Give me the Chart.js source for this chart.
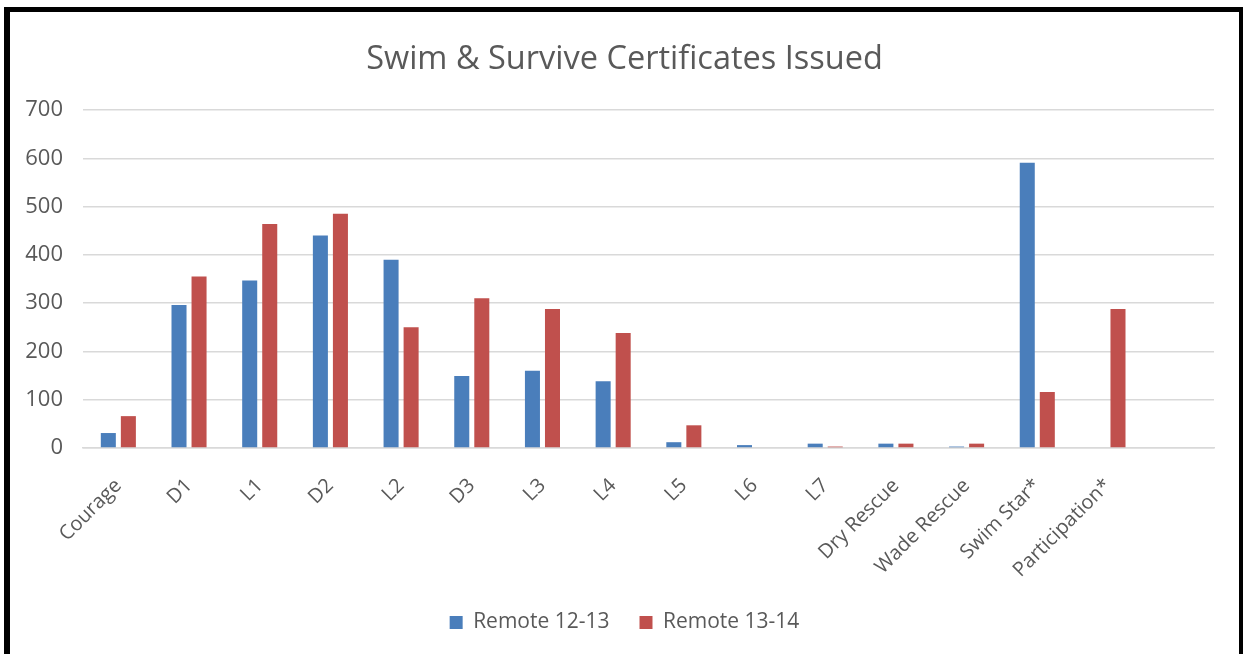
<!DOCTYPE html>
<html>
<head>
<meta charset="utf-8">
<script src="https://cdn.jsdelivr.net/npm/chart.js@4/dist/chart.umd.min.js"></script>
<style>
    html, body { margin: 0; padding: 0; background: #fff; overflow: hidden; }
    .frame {
        position: absolute;
        left: 4px; top: 7px;
        width: 1239px; height: 700px;
        box-sizing: border-box;
        border-left: 6px solid #000;
        border-top: 5px solid #000;
        border-right: 4px solid #000;
    }
    .wrap { position: absolute; left: 0; top: 0; width: 1229px; height: 642px; }
</style>
</head>
<body>
<div class="frame">
    <div class="wrap"><canvas id="certChart"></canvas></div>
</div>
<script>
// the last category is an empty slot, as in the original sheet
const categories = ['Courage', 'D1', 'L1', 'D2', 'L2', 'D3', 'L3', 'L4', 'L5', 'L6', 'L7',
    'Dry Rescue', 'Wade Rescue', 'Swim Star*', 'Participation*', ''];
const remote1213 = [31, 296, 347, 440, 390, 149, 160, 138, 12, 6, 9, 9, 3, 591, 0, null];
const remote1314 = [66, 355, 464, 485, 250, 310, 288, 238, 47, 0, 3, 9, 9, 116, 288, null];
const yTicks = [0, 100, 200, 300, 400, 500, 600, 700];

const fontFamily = "'Open Sans', 'DejaVu Sans', sans-serif";
const textGrey = '#595959';

const certCtx = document.getElementById('certChart').getContext('2d');
new Chart(certCtx, {
    type: 'bar',
    data: {
        labels: categories,
        datasets: [{
            label: 'Remote 12-13',
            data: remote1213,
            backgroundColor: '#4a7ebb',
            categoryPercentage: 0.567,
            barPercentage: 0.75
        }, {
            label: 'Remote 13-14',
            data: remote1314,
            backgroundColor: '#c0504d',
            categoryPercentage: 0.567,
            barPercentage: 0.75
        }]
    },
    options: {
        responsive: true,
        maintainAspectRatio: false,
        animation: false,
        layout: {
            padding: { left: 0, right: 0, top: 0, bottom: 11 }
        },
        plugins: {
            title: {
                display: true,
                text: 'Swim & Survive Certificates Issued',
                color: textGrey,
                font: { family: fontFamily, size: 32.5, weight: 'normal' },
                padding: { top: 28, bottom: 31 }
            },
            legend: {
                position: 'bottom',
                labels: {
                    color: textGrey,
                    font: { family: fontFamily, size: 21 },
                    boxWidth: 13,
                    boxHeight: 13,
                    padding: 30
                }
            },
            tooltip: { enabled: false }
        },
        scales: {
            y: {
                min: 0,
                max: 700,
                afterBuildTicks: scale => {
                    scale.ticks = yTicks.map(v => ({ value: v }));
                },
                afterFit: scale => { scale.width = 73; },
                border: { display: false },
                grid: {
                    color: '#d9d9d9',
                    lineWidth: 1.5,
                    drawTicks: false
                },
                ticks: {
                    color: textGrey,
                    padding: 20,
                    font: { family: fontFamily, size: 22 }
                }
            },
            // empty spacer on the right so title and legend stay centred on the frame
            spacer: {
                position: 'right',
                afterFit: scale => { scale.width = 25; },
                border: { display: false },
                grid: { display: false, drawTicks: false },
                ticks: { display: false }
            },
            x: {
                afterFit: scale => { scale.height = 134; },
                border: { display: true, color: '#d9d9d9', width: 1.5 },
                grid: { display: false },
                ticks: {
                    color: textGrey,
                    minRotation: 45,
                    maxRotation: 45,
                    padding: 18,
                    autoSkip: false,
                    font: { family: fontFamily, size: 20 }
                }
            }
        }
    }
});
</script>
</body>
</html>
